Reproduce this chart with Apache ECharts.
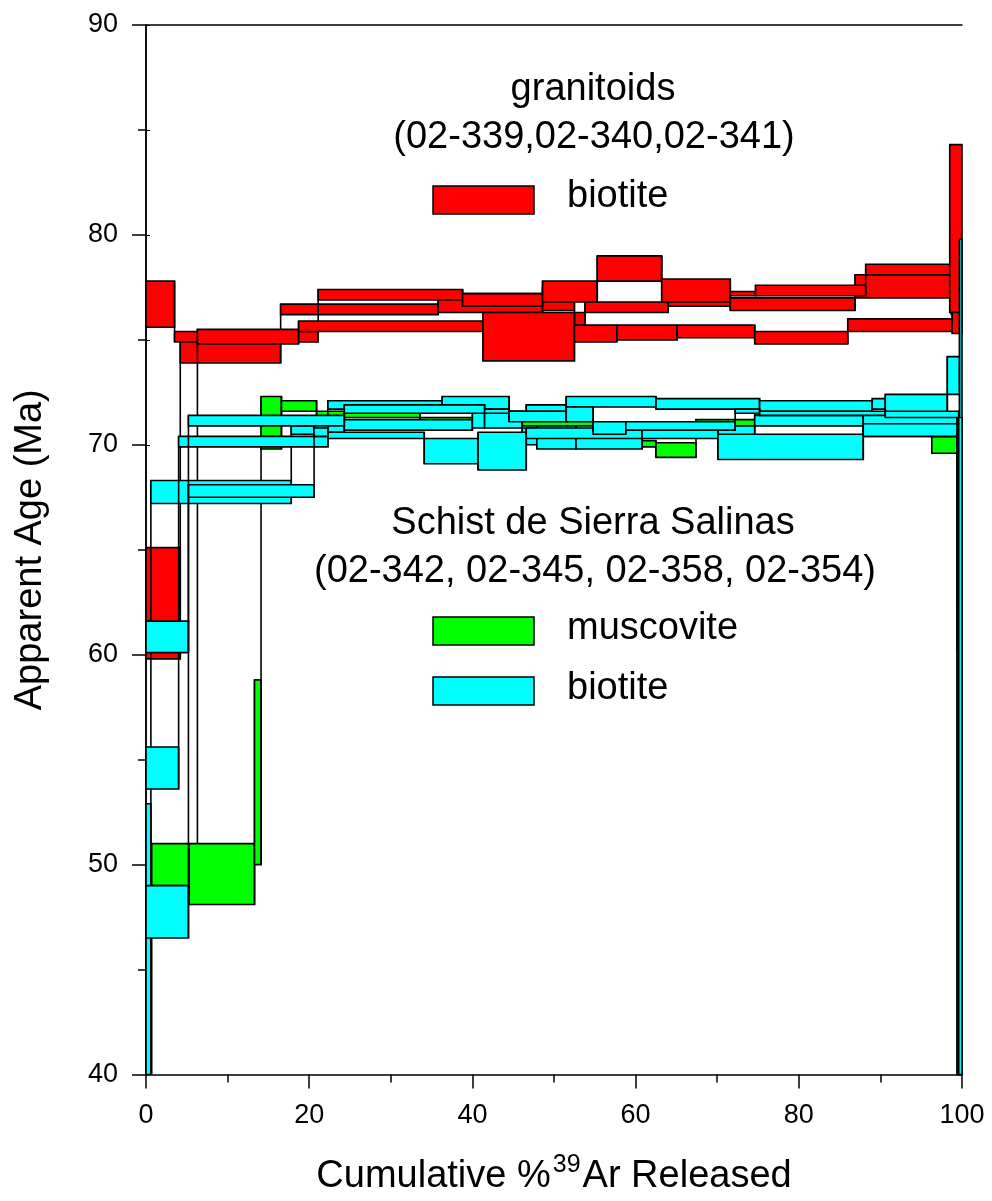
<!DOCTYPE html>
<html><head><meta charset="utf-8">
<script src="https://cdn.jsdelivr.net/npm/echarts/dist/echarts.min.js"></script>
<style>html,body{margin:0;padding:0;background:#fff}#c{width:992px;height:1201px}</style>
</head><body><div id="c"></div>
<script>
// Axis settings
const xTickValues = [0, 20, 40, 60, 80, 100];
const yTickValues = [40, 50, 60, 70, 80, 90];

// Each step: [cumulative % start, cumulative % end, age low (Ma), age high (Ma)]
// Granitoids biotite (red)
const granitoid1 = [[0,4.2,59.8,65.1],[4.2,16.5,73.9,75.0],[16.5,35.8,76.2,76.7],[35.8,48.6,76.3,77.2],[48.6,52.5,76.4,77.5],[52.5,53.8,75.7,76.3],[53.8,64.0,76.3,76.8],[64.0,71.6,76.6,77.7],[71.6,86.9,76.4,77.0],[86.9,98.7,77.0,78.1],[98.7,100,76.2,77.2]];
const granitoid2 = [[0,3.5,75.6,77.8],[3.5,21.1,74.9,75.4],[21.1,38.8,76.9,77.4],[38.8,48.6,76.6,77.2],[48.6,55.3,76.8,77.8],[55.3,63.2,77.8,79.0],[63.2,71.6,76.8,77.9],[71.6,74.7,77.1,77.3],[74.7,88.2,77.1,77.6],[88.2,98.5,78.1,78.6],[98.5,100,76.3,84.3]];
const granitoid3 = [[0,6.3,48.6,50.6],[6.3,18.7,74.8,75.5],[18.7,41.3,75.4,75.9],[41.3,52.5,74.0,76.3],[52.5,57.7,74.9,75.7],[57.7,65.1,75.0,75.7],[65.1,74.6,75.1,75.7],[74.6,86.0,74.8,75.4],[86.0,98.8,75.4,76.0],[98.8,100,75.3,76.3]];
// Schist muscovite (green)
const schistMusc = [[0,0.7,36,38],[0.7,5.3,49.0,51.0],[5.3,13.3,48.1,51.0],[13.3,14.1,50.0,58.8],[14.1,16.6,69.8,72.3],[16.6,20.9,71.6,72.1],[20.9,24.3,71.3,71.6],[24.3,33.6,71.3,71.5],[33.6,54.8,70.9,71.3],[54.8,60.8,70.5,71.0],[60.8,62.5,69.9,70.2],[62.5,67.4,69.4,70.1],[67.4,74.6,70.9,71.2],[74.6,87.9,71.4,71.5],[87.9,96.3,70.5,71.0],[96.3,99.4,69.6,70.4],[99.4,100,36,70.0]];
// Schist biotite (cyan)
const schistBio1 = [[0,0.6,36,52.9],[0.6,17.8,67.2,68.3],[17.8,20.6,70.5,70.9],[20.6,24.3,70.6,71.0],[24.3,40.0,70.7,71.2],[40.0,41.5,70.8,71.5],[41.5,46.1,70.8,71.6],[46.1,47.9,70.0,70.8],[47.9,52.7,69.8,70.9],[52.7,60.8,69.8,70.4],[60.8,74.6,70.4,70.9],[74.6,87.9,70.9,71.4],[87.9,99.4,70.4,71.5],[99.4,100,60.3,62.5]];
const schistBio2 = [[0,4.0,53.6,55.6],[4.0,22.3,69.9,70.4],[22.3,34.1,70.3,70.6],[34.1,40.7,69.1,70.3],[40.7,46.6,68.8,70.6],[46.6,60.8,70.3,70.8],[60.8,70.1,70.3,70.9],[70.1,87.9,69.3,70.5],[87.9,99.4,70.4,71.0],[99.4,100,62.5,70.5]];
const schistBio3 = [[0,5.2,60.1,61.6],[5.2,20.6,67.5,68.1],[20.6,22.3,70.4,70.8],[22.3,36.3,71.7,72.1],[36.3,44.5,71.7,72.3],[44.5,46.6,71.2,71.6],[46.6,51.5,71.6,71.9],[51.5,62.5,71.8,72.3],[62.5,75.2,71.7,72.2],[75.2,89.0,71.6,72.1],[89.0,90.6,71.7,72.2],[90.6,98.2,71.5,72.4],[98.2,99.7,72.4,74.2],[99.7,100,36,79.8]];
const schistBio4 = [[0,5.2,46.5,49.0],[5.2,24.3,70.9,71.4],[24.3,41.5,71.5,71.9],[41.5,44.5,71.5,71.7],[44.5,51.5,71.1,71.6],[51.5,54.8,71.1,71.8],[54.8,58.8,70.5,71.1],[58.8,72.2,70.7,71.1],[72.2,75.2,71.5,71.7],[75.2,90.6,71.4,71.6],[90.6,99.6,71.3,71.6],[99.6,100,36,71.3]];

const RED = '#ff0000', GREEN = '#00ff00', CYAN = '#00ffff';
const FONT = 'Liberation Sans, Arial, sans-serif';

function spectrum(name, steps, color, z) {
  return {
    type: 'custom', name: name, z: z,
    data: steps,
    encode: { x: [0, 1], y: [2, 3] },
    renderItem: function (params, api) {
      const i = params.dataIndex;
      const s = steps[i];
      const cs = params.coordSys;
      const box = { x: cs.x, y: cs.y, width: cs.width, height: cs.height };
      const p0 = api.coord([s[0], s[3]]);
      const p1 = api.coord([s[1], s[2]]);
      const children = [];
      const r = echarts.graphic.clipRectByRect({ x: p0[0], y: p0[1], width: p1[0] - p0[0], height: p1[1] - p0[1] }, box);
      if (r) children.push({ type: 'rect', shape: r, style: { fill: color, stroke: '#000', lineWidth: 1.6 } });
      if (i < steps.length - 1) {
        const n = steps[i + 1];
        const lo = Math.min(s[2], n[2]), hi = Math.max(s[3], n[3]);
        const xx = api.coord([s[1], lo])[0];
        let ya = api.coord([s[1], hi])[1], yb = api.coord([s[1], lo])[1];
        ya = Math.max(ya, cs.y); yb = Math.min(yb, cs.y + cs.height);
        if (yb > ya) children.push({ type: 'line', shape: { x1: xx, y1: ya, x2: xx, y2: yb }, style: { stroke: '#000', lineWidth: 1.6 } });
      }
      return { type: 'group', children: children };
    }
  };
}

function label(text, x, y, align) {
  return { type: 'text', x: x, y: y, z: 10,
    style: { text: text, font: '38px ' + FONT, fill: '#000', align: align, verticalAlign: 'top' } };
}
function swatch(color, x, y) {
  return { type: 'rect', z: 10, shape: { x: x, y: y, width: 101, height: 28 },
    style: { fill: color, stroke: '#000', lineWidth: 1.5 } };
}

const chart = echarts.init(document.getElementById('c'), null, { renderer: 'canvas' });
const axisCommon = { lineStyle: { color: '#000', width: 1.5 } };
chart.setOption({
  animation: false,
  backgroundColor: '#fff',
  grid: { left: 146, right: 30, top: 25, bottom: 121 },
  xAxis: [{
    type: 'value', min: xTickValues[0], max: xTickValues[xTickValues.length - 1], interval: 20,
    axisLine: axisCommon, axisTick: { length: 14, lineStyle: { color: '#000', width: 1.5 } },
    minorTick: { show: true, splitNumber: 2, length: 8, lineStyle: { color: '#000', width: 1.5 } },
    splitLine: { show: false },
    axisLabel: { fontSize: 27, color: '#000', fontFamily: FONT, margin: 28 },
    name: 'Cumulative %{sup|39}Ar Released', nameLocation: 'middle', nameGap: 78,
    nameTextStyle: { fontSize: 38, color: '#000', fontFamily: FONT, rich: { sup: { fontSize: 25, verticalAlign: 'top', padding: [0, 2, 24, 2], fontFamily: FONT, color: '#000' } } }
  }, {
    type: 'value', position: 'top', min: 0, max: 100, interval: 20,
    axisLine: axisCommon, axisTick: { show: false }, axisLabel: { show: false }, splitLine: { show: false }
  }],
  yAxis: [{
    type: 'value', min: yTickValues[0], max: yTickValues[yTickValues.length - 1], interval: 10,
    axisLine: axisCommon, axisTick: { length: 14, lineStyle: { color: '#000', width: 1.5 } },
    minorTick: { show: true, splitNumber: 2, length: 8, lineStyle: { color: '#000', width: 1.5 } },
    splitLine: { show: false },
    axisLabel: { fontSize: 27, color: '#000', fontFamily: FONT, margin: 28 },
    name: 'Apparent Age (Ma)', nameLocation: 'middle', nameGap: 96,
    nameTextStyle: { fontSize: 38, color: '#000', fontFamily: FONT }
  }, {
    type: 'value', position: 'right', min: 40, max: 90, interval: 10,
    axisLine: axisCommon, axisTick: { length: 4, lineStyle: { color: '#000', width: 1 } },
    minorTick: { show: true, splitNumber: 2, length: 4, lineStyle: { color: '#000', width: 1 } },
    axisLabel: { show: false }, splitLine: { show: false }
  }],
  series: [
    spectrum('02-339', granitoid1, RED, 2),
    spectrum('02-340', granitoid2, RED, 2),
    spectrum('02-341', granitoid3, RED, 2),
    spectrum('muscovite', schistMusc, GREEN, 3),
    spectrum('bio1', schistBio1, CYAN, 4),
    spectrum('bio2', schistBio2, CYAN, 4),
    spectrum('bio3', schistBio3, CYAN, 4),
    spectrum('bio4', schistBio4, CYAN, 4)
  ],
  graphic: [
    label('granitoids', 593, 71, 'center'),
    label('(02-339,02-340,02-341)', 594, 119, 'center'),
    swatch(RED, 433, 186),
    label('biotite', 567, 178, 'left'),
    label('Schist de Sierra Salinas', 593, 505, 'center'),
    label('(02-342, 02-345, 02-358, 02-354)', 595, 553, 'center'),
    swatch(GREEN, 433, 617),
    label('muscovite', 567, 610, 'left'),
    swatch(CYAN, 433, 677),
    label('biotite', 567, 670, 'left')
  ]
});
</script>
</body></html>
